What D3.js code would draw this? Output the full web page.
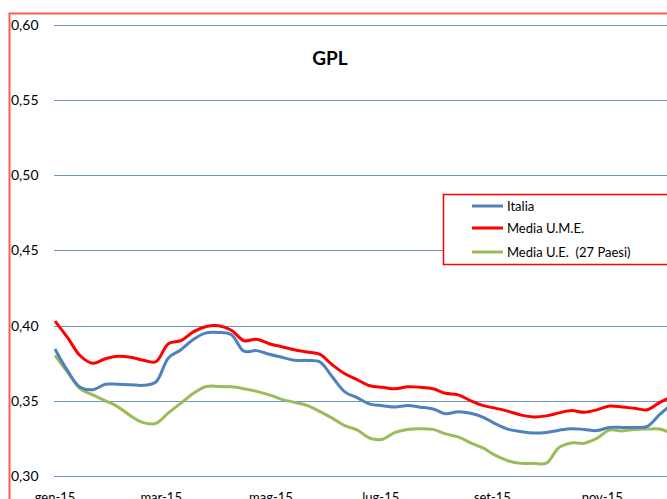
<!doctype html>
<html>
  <head>
    <meta charset="utf-8">
    <script src="https://cdn.jsdelivr.net/npm/d3@7"></script>
    <style>
      body { margin: 0; background: #fff; }
      svg { display: block; font-family: Lato, "Open Sans", sans-serif; }
    </style>
  </head>
  <body>
    <svg id="chart" width="667" height="499"></svg>

    <script>
      // weekly prices (euro / litre), one value per week starting 1 Jan 2015
      var italia = [0.3845, 0.370, 0.359, 0.3574, 0.361, 0.361, 0.3607, 0.3603, 0.3625, 0.3785,
                    0.384, 0.391, 0.3952, 0.3955, 0.394, 0.383, 0.3834, 0.381, 0.379, 0.377,
                    0.3769, 0.376, 0.366, 0.356, 0.352, 0.3478, 0.3468, 0.3459, 0.3469, 0.3458,
                    0.3446, 0.3414, 0.3428, 0.3417, 0.339, 0.3345, 0.331, 0.3295, 0.3286, 0.329,
                    0.3305, 0.3315, 0.331, 0.3302, 0.3323, 0.3323, 0.3323, 0.333, 0.341, 0.348];
      var mediaUME = [0.403, 0.392, 0.380, 0.375, 0.378, 0.3796, 0.379, 0.377, 0.376, 0.388,
                      0.390, 0.396, 0.3995, 0.400, 0.397, 0.390, 0.391, 0.388, 0.386, 0.384,
                      0.3825, 0.381, 0.374, 0.368, 0.364, 0.360, 0.359, 0.358, 0.3594, 0.359,
                      0.358, 0.355, 0.354, 0.350, 0.3468, 0.345, 0.343, 0.3405, 0.3393, 0.340,
                      0.342, 0.3435, 0.3424, 0.344, 0.3465, 0.3459, 0.345, 0.3441, 0.349, 0.353];
      var mediaUE = [0.3802, 0.369, 0.358, 0.354, 0.350, 0.346, 0.340, 0.3355, 0.335, 0.342,
                     0.3485, 0.355, 0.3595, 0.3596, 0.3593, 0.358, 0.3563, 0.354, 0.351, 0.349,
                     0.347, 0.343, 0.3385, 0.3335, 0.3305, 0.3251, 0.3245, 0.329, 0.331, 0.3315,
                     0.331, 0.328, 0.326, 0.322, 0.3185, 0.3135, 0.310, 0.3084, 0.3084, 0.3085,
                     0.319, 0.322, 0.3218, 0.325, 0.3305, 0.330, 0.331, 0.3312, 0.3312, 0.328];

      var seriesNames = ["Italia", "Media U.M.E.", "Media U.E.  (27 Paesi)"];
      var seriesColors = ["#4F81BD", "#FF0000", "#9BBB59"];
      var yTicks = [0.30, 0.35, 0.40, 0.45, 0.50, 0.55, 0.60];
      var monthLabels = ["gen-15", "mar-15", "mag-15", "lug-15", "set-15", "nov-15"];
      var monthStarts = [0, 2, 4, 6, 8, 10];

      var svg = d3.select("#chart");
      var start = new Date(2015, 0, 1);
      var weekDate = function(i) { return d3.timeDay.offset(start, 7 * i); };

      var x = d3.scaleTime()
        .domain([start, new Date(2016, 0, 1)])
        .range([55, 712]);
      var y = d3.scaleLinear()
        .domain([0.30, 0.60])
        .range([476, 25]);

      // chart border (red, only left and top are visible in the crop)
      svg.append("rect")
        .attr("x", 9.5).attr("y", 13.5)
        .attr("width", 720).attr("height", 520)
        .attr("fill", "none")
        .attr("stroke", "#FF5B5B")
        .attr("stroke-width", 2);

      // gridlines
      svg.selectAll("line.grid")
        .data(yTicks)
        .enter()
        .append("line")
          .attr("class", "grid")
          .attr("x1", 54).attr("x2", 720)
          .attr("y1", function(d) { return Math.round(y(d)) + 0.5; })
          .attr("y2", function(d) { return Math.round(y(d)) + 0.5; })
          .attr("stroke", "#6F95C8")
          .attr("stroke-width", 1.2);

      // y labels
      svg.selectAll("text.ylab")
        .data(yTicks)
        .enter()
        .append("text")
          .attr("class", "ylab")
          .attr("x", 11)
          .attr("y", function(d) { return y(d); })
          .attr("dy", "0.35em")
          .attr("font-size", 14)
          .attr("fill", "#000")
          .text(function(d) { return d3.format(".2f")(d).replace(".", ","); });

      // x labels
      svg.selectAll("text.xlab")
        .data(monthLabels)
        .enter()
        .append("text")
          .attr("class", "xlab")
          .attr("x", function(d, i) { return x(new Date(2015, monthStarts[i], 1)); })
          .attr("y", 502)
          .attr("text-anchor", "middle")
          .attr("font-size", 13)
          .attr("fill", "#000")
          .text(function(d) { return d; });

      // lines
      var line = d3.line()
        .x(function(d, i) { return x(weekDate(i)); })
        .y(function(d) { return y(d); })
        .curve(d3.curveCatmullRom.alpha(0.5));

      var allSeries = [italia, mediaUME, mediaUE];
      svg.selectAll("path.series")
        .data([mediaUE, italia, mediaUME])
        .enter()
        .append("path")
          .attr("class", "series")
          .attr("fill", "none")
          .attr("stroke", function(d) { return seriesColors[allSeries.indexOf(d)]; })
          .attr("stroke-width", 3)
          .attr("stroke-linejoin", "round")
          .attr("d", line);

      // title
      svg.append("text")
        .attr("x", 330)
        .attr("y", 65)
        .attr("text-anchor", "middle")
        .attr("font-size", 19)
        .attr("font-weight", "bold")
        .text("GPL");

      // legend
      var legend = svg.append("g");
      legend.append("rect")
        .attr("x", 443.5).attr("y", 194.5)
        .attr("width", 240).attr("height", 70)
        .attr("fill", "#fff")
        .attr("stroke", "#FF0000")
        .attr("stroke-width", 1.5);
      var legY = [206, 228, 252];
      seriesNames.forEach(function(name, i) {
        legend.append("line")
          .attr("x1", 472).attr("x2", 503)
          .attr("y1", legY[i]).attr("y2", legY[i])
          .attr("stroke", seriesColors[i])
          .attr("stroke-width", 3);
        legend.append("text")
          .attr("x", 507)
          .attr("y", legY[i])
          .attr("dy", "0.35em")
          .attr("font-size", 13)
          .attr("xml:space", "preserve")
          .style("white-space", "pre")
          .text(name);
      });
    </script>
  </body>
</html>
